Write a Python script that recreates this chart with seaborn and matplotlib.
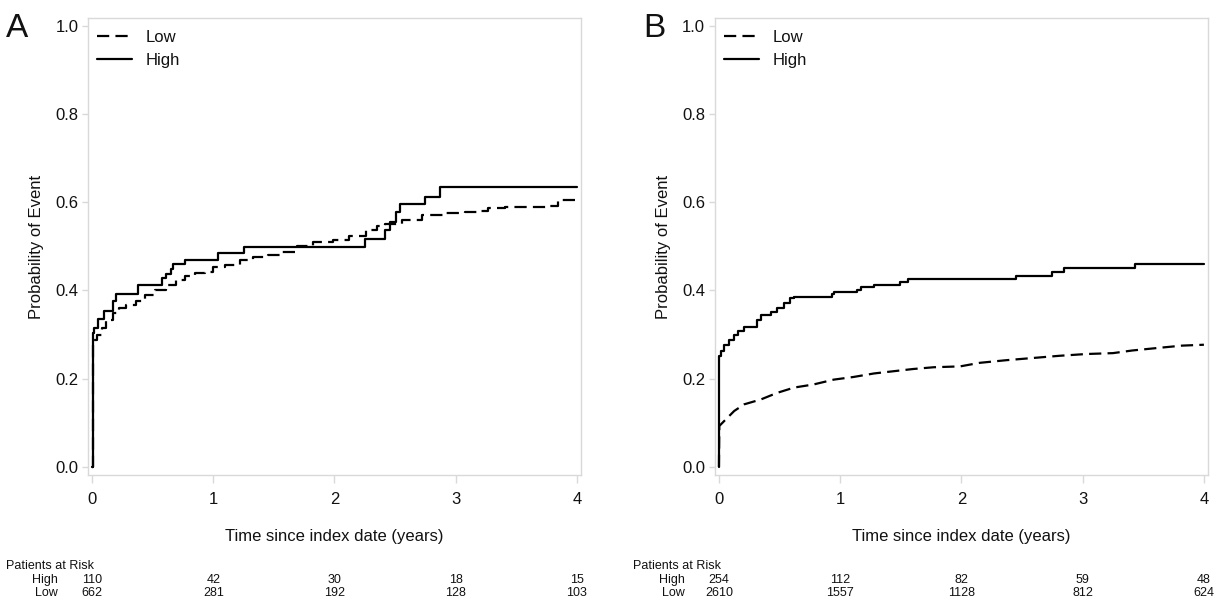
import matplotlib
matplotlib.use("Agg")
import matplotlib.pyplot as plt
import matplotlib.transforms as mtrans
from matplotlib.lines import Line2D
from matplotlib import font_manager as fm
import numpy as np
import pandas as pd
import seaborn as sns

# ---------------- data ----------------
groups = ["Low", "High"]

# Panel A
tA_high = [0, 0.005, 0.02, 0.047, 0.10, 0.17, 0.20, 0.38, 0.58, 0.61, 0.65, 0.67, 0.77,
           1.04, 1.25, 2.25, 2.42, 2.46, 2.51, 2.54, 2.75, 2.87, 4.0]
pA_high = [0, 0.304, 0.316, 0.335, 0.354, 0.375, 0.393, 0.413, 0.428, 0.438, 0.449, 0.460, 0.470,
           0.484, 0.498, 0.517, 0.536, 0.555, 0.577, 0.596, 0.611, 0.634, 0.634]
tA_low = [0, 0.01, 0.04, 0.08, 0.115, 0.17, 0.22, 0.28, 0.36, 0.44, 0.52, 0.61, 0.69, 0.77,
          0.85, 0.93, 1.0, 1.1, 1.22, 1.33, 1.45, 1.55, 1.69, 1.82, 1.99, 2.12, 2.26, 2.35,
          2.42, 2.56, 2.72, 2.92, 3.08, 3.19, 3.27, 3.41, 3.76, 3.84, 4.0]
pA_low = [0, 0.288, 0.300, 0.315, 0.333, 0.348, 0.360, 0.367, 0.375, 0.390, 0.401, 0.412, 0.423,
          0.432, 0.440, 0.442, 0.452, 0.458, 0.468, 0.476, 0.481, 0.487, 0.500, 0.510, 0.514,
          0.523, 0.538, 0.545, 0.551, 0.560, 0.570, 0.575, 0.578, 0.581, 0.587, 0.590, 0.592,
          0.604, 0.606]

# Panel B
tB_high = [0, 0.003, 0.017, 0.044, 0.085, 0.126, 0.154, 0.208, 0.318, 0.345, 0.427, 0.48,
           0.537, 0.59, 0.62, 0.934, 0.947, 1.14, 1.17, 1.28, 1.495, 1.56, 2.45, 2.75, 2.85,
           3.43, 4.0]
pB_high = [0, 0.251, 0.262, 0.277, 0.288, 0.300, 0.307, 0.318, 0.333, 0.345, 0.352, 0.360,
           0.371, 0.382, 0.385, 0.392, 0.397, 0.402, 0.407, 0.412, 0.420, 0.425, 0.432, 0.442,
           0.450, 0.461, 0.461]
tB_low = [0, 0.003, 0.057, 0.126, 0.208, 0.345, 0.48, 0.62, 0.78, 0.947, 1.11, 1.28, 1.44,
          1.6, 1.77, 1.99, 2.15, 2.37, 2.59, 2.81, 3.03, 3.25, 3.41, 3.63, 3.82, 4.0]
pB_low = [0, 0.093, 0.108, 0.127, 0.142, 0.153, 0.168, 0.180, 0.187, 0.198, 0.204, 0.212,
          0.217, 0.222, 0.226, 0.228, 0.236, 0.242, 0.247, 0.252, 0.256, 0.258, 0.264, 0.270,
          0.275, 0.277]

# Patients at risk
risk_times = [0, 1, 2, 3, 4]
riskA_high = [110, 42, 30, 18, 15]
riskA_low = [662, 281, 192, 128, 103]
riskB_high = [254, 112, 82, 59, 48]
riskB_low = [2610, 1557, 1128, 812, 624]

x_ticks = [0, 1, 2, 3, 4]
y_ticks = [0.0, 0.2, 0.4, 0.6, 0.8, 1.0]
y_ticklabels = ["0.0", "0.2", "0.4", "0.6", "0.8", "1.0"]

# ---------------- style ----------------
sns.set_style("white")
names = {f.name for f in fm.fontManager.ttflist}
main_font = "Liberation Sans" if "Liberation Sans" in names else "DejaVu Sans"
narrow_font = "Liberation Sans Narrow" if "Liberation Sans Narrow" in names else main_font
narrow_size = 10.5 if narrow_font == "Liberation Sans Narrow" else 9.0
plt.rcParams["font.family"] = [main_font, "DejaVu Sans"]
plt.rcParams["text.color"] = "#111111"

SPINE = "#d9d9d9"
LW = 1.6
DASH = (5.5, 2.8)

fig = plt.figure(figsize=(12.19, 6.03), dpi=100)
axA = fig.add_axes([0.0722, 0.2123, 0.4044, 0.7578])
axB = fig.add_axes([0.5865, 0.2123, 0.4044, 0.7578])


def draw_curve(ax, t, p, dashed, steps=True):
    kw = dict(color="black", linewidth=LW, estimator=None, sort=False, legend=False, ax=ax)
    if dashed:
        kw["linestyle"] = (0, DASH)
    if steps:
        kw["drawstyle"] = "steps-post"
    sns.lineplot(x=t, y=p, **kw)


def draw_panel(ax, t_low, p_low, t_high, p_high, low_steps, r_high, r_low,
               letter, letter_x, risk_x):
    draw_curve(ax, t_low, p_low, True, low_steps)
    draw_curve(ax, t_high, p_high, False, True)
    ax.set_xlim(-0.033, 4.033)
    ax.set_ylim(-0.018, 1.017)
    ax.set_xticks(x_ticks)
    ax.set_xticklabels([str(v) for v in x_ticks])
    ax.set_yticks(y_ticks)
    ax.set_yticklabels(y_ticklabels)
    ax.set_xlabel("")
    ax.set_ylabel("")
    for s in ax.spines.values():
        s.set_visible(True)
        s.set_color(SPINE)
        s.set_linewidth(1.0)
    ax.tick_params(axis="both", which="both", bottom=True, left=True, direction="out",
                   color=SPINE, labelsize=12, labelcolor="#111111", width=1.0)
    ax.tick_params(axis="x", length=6, pad=6)
    ax.tick_params(axis="y", length=4, pad=3)

    ax.text(0.5, -0.1357, "Time since index date (years)", transform=ax.transAxes,
            ha="center", va="center", fontsize=12)
    ax.text(-0.105, 0.5, "Probability of Event", transform=ax.transAxes,
            ha="center", va="center", rotation=90, fontsize=12)

    handles = [Line2D([], [], color="black", lw=LW, linestyle=(0, DASH)),
               Line2D([], [], color="black", lw=LW, linestyle="-")]
    ax.legend(handles, groups, loc="upper left", bbox_to_anchor=(0.018, 0.974),
              frameon=False, borderpad=0, borderaxespad=0, handlelength=2.1,
              handletextpad=0.8, labelspacing=0.5, fontsize=12)

    fig.text(letter_x, 0.9386, letter, fontsize=24, va="baseline", ha="left")

    tr = mtrans.blended_transform_factory(ax.transData, fig.transFigure)
    fam = [narrow_font, "DejaVu Sans"]
    fig.text(risk_x, 0.0614, "Patients at Risk", ha="left", va="center",
             fontsize=narrow_size, family=fam)
    ax.text(-0.28, 0.0381, "High", transform=tr, ha="right", va="center",
            fontsize=narrow_size, family=fam, clip_on=False)
    ax.text(-0.28, 0.0166, "Low", transform=tr, ha="right", va="center",
            fontsize=narrow_size, family=fam, clip_on=False)
    for t, h, l in zip(risk_times, r_high, r_low):
        ax.text(t, 0.0381, str(h), transform=tr, ha="center", va="center",
                fontsize=narrow_size, family=fam, clip_on=False)
        ax.text(t, 0.0166, str(l), transform=tr, ha="center", va="center",
                fontsize=narrow_size, family=fam, clip_on=False)


draw_panel(axA, tA_low, pA_low, tA_high, pA_high, True, riskA_high, riskA_low,
           "A", 0.0049, 0.0049)
draw_panel(axB, tB_low, pB_low, tB_high, pB_high, False, riskB_high, riskB_low,
           "B", 0.5275, 0.519)

fig.savefig("out.png", dpi=100)
